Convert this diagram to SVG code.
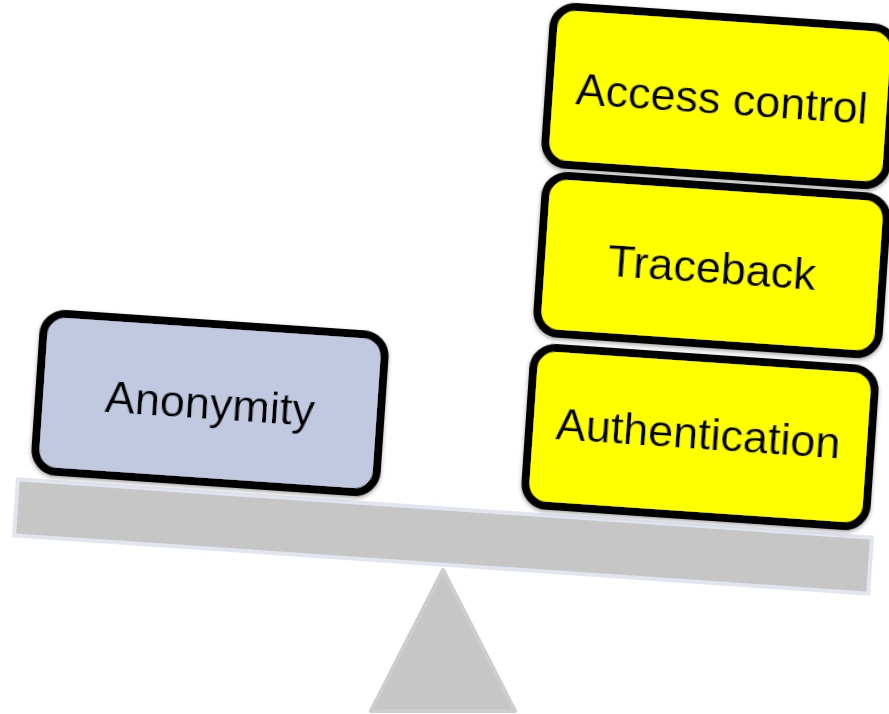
<svg xmlns="http://www.w3.org/2000/svg" width="889" height="714" viewBox="0 0 889 714">
  <defs>
    <filter id="shadow" x="-10%" y="-10%" width="120%" height="130%">
      <feDropShadow dx="0" dy="2" stdDeviation="2" flood-color="#000" flood-opacity="0.35"/>
    </filter>
  </defs>
  <style>
    .box { stroke: #000; stroke-width: 8; }
    .weight { fill: #ffff00; }
    .light { fill: #c1c9e1; }
    .label { font-family: "Liberation Sans", Arial, sans-serif; font-size: 45px; fill: #000; text-anchor: middle; }
    .scale { fill: #c6c6c6; }
  </style>

  <!-- fulcrum -->
  <polygon class="scale" points="443,570 515,711 371,711" stroke="#cdcdcd" stroke-width="4" stroke-linejoin="round"/>

  <!-- beam -->
  <g id="beam" transform="translate(443,536.5) rotate(3.9)">
    <rect class="scale" x="-428" y="-28" width="856" height="56" stroke="#e1e5ef" stroke-width="4"/>
  </g>

  <g id="anonymity" transform="translate(210,403) rotate(3.9)" filter="url(#shadow)">
    <rect class="box light" x="-171" y="-79" width="342" height="158" rx="22"/>
    <text class="label" x="0" y="16">Anonymity</text>
  </g>

  <g id="authentication" transform="translate(700,437) rotate(3.9)" filter="url(#shadow)">
    <rect class="box weight" x="-171" y="-79" width="342" height="158" rx="22"/>
    <text class="label" x="-2" y="12">Authentication</text>
  </g>

  <g id="traceback" transform="translate(712,265) rotate(3.9)" filter="url(#shadow)">
    <rect class="box weight" x="-171" y="-79" width="342" height="158" rx="22"/>
    <text class="label" x="0" y="18">Traceback</text>
  </g>

  <g id="access-control" transform="translate(720,96) rotate(3.9)" filter="url(#shadow)">
    <rect class="box weight" x="-171" y="-79" width="342" height="158" rx="22"/>
    <text class="label" x="2" y="18">Access control</text>
  </g>
</svg>
